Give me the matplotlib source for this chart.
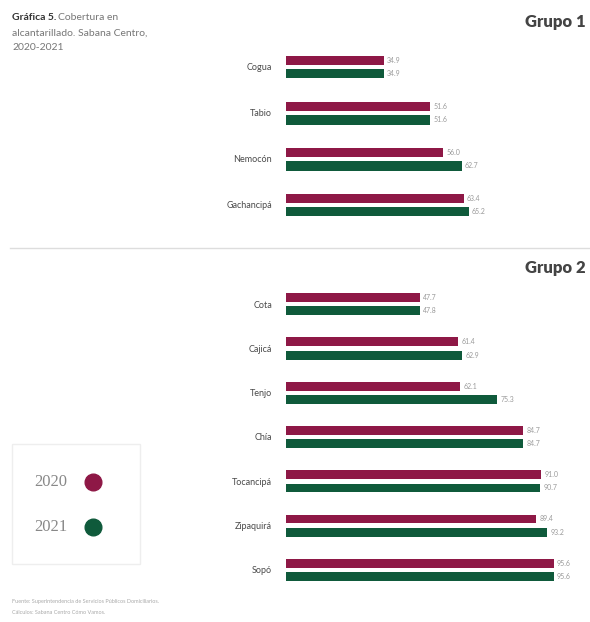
import matplotlib.pyplot as plt
from matplotlib.patches import Rectangle
from matplotlib.lines import Line2D

# ========= DATA =========
grupo1 = ['Cogua', 'Tabio', 'Nemocón', 'Gachancipá']
grupo1_2020 = [34.9, 51.6, 56.0, 63.4]
grupo1_2021 = [34.9, 51.6, 62.7, 65.2]

grupo2 = ['Cota', 'Cajicá', 'Tenjo', 'Chía', 'Tocancipá', 'Zipaquirá', 'Sopó']
grupo2_2020 = [47.7, 61.4, 62.1, 84.7, 91.0, 89.4, 95.6]
grupo2_2021 = [47.8, 62.9, 75.3, 84.7, 90.7, 93.2, 95.6]

years = ['2020', '2021']

# ========= STYLE =========
c2020 = '#8e1846'
c2021 = '#0f5a3b'
label_color = '#4a4a4a'
value_color = '#9a9a9a'
W, H = 590, 622
plt.rcParams['font.family'] = ['Lato', 'DejaVu Sans']

fig = plt.figure(figsize=(W / 100, H / 100), dpi=100)


def px_axes(x0, y0, x1, y1):
    # axes from pixel box (top-left origin)
    return fig.add_axes([x0 / W, 1 - y1 / H, (x1 - x0) / W, (y1 - y0) / H])


def draw_group(ax, cats, v20, v21):
    n = len(cats)
    ys = list(range(n))
    off, h = 0.15, 0.2
    ax.barh([y - off for y in ys], v20, height=h, color=c2020)
    ax.barh([y + off for y in ys], v21, height=h, color=c2021)
    for y, a, b in zip(ys, v20, v21):
        ax.text(a + 1.2, y - off, f'{a:.1f}', va='center', ha='left', fontsize=5, color=value_color)
        ax.text(b + 1.2, y + off, f'{b:.1f}', va='center', ha='left', fontsize=5, color=value_color)
    ax.set_ylim(n - 0.5, -0.5)
    ax.set_xlim(0, 100)
    ax.set_yticks(ys)
    ax.set_yticklabels(cats, fontsize=6.5, color=label_color)
    ax.tick_params(axis='y', length=0, pad=10)
    ax.set_xticks([])
    for s in ax.spines.values():
        s.set_visible(False)
    ax.patch.set_alpha(0)


ax1 = px_axes(286, 44, 566, 228)
draw_group(ax1, grupo1, grupo1_2020, grupo1_2021)

ax2 = px_axes(286, 282, 566, 592)
draw_group(ax2, grupo2, grupo2_2020, grupo2_2021)

# ========= TITLES & DECOR =========
fig.text(12 / W, 1 - 18 / H, 'Gráfica 5.', fontsize=7.5, fontweight='bold', color='#333333', va='center')
fig.text(58 / W, 1 - 18 / H, 'Cobertura en', fontsize=7.5, color='#777777', va='center')
fig.text(12 / W, 1 - 33 / H, 'alcantarillado. Sabana Centro,', fontsize=7.5, color='#777777', va='center')
fig.text(12 / W, 1 - 48 / H, '2020-2021', fontsize=7.5, color='#777777', va='center')

fig.text(586 / W, 1 - 22 / H, 'Grupo 1', fontsize=12, fontweight='heavy', color='#444444', ha='right', va='center')
fig.text(586 / W, 1 - 268 / H, 'Grupo 2', fontsize=12, fontweight='heavy', color='#444444', ha='right', va='center')

fig.add_artist(Line2D([10 / W, 590 / W], [1 - 248 / H, 1 - 248 / H], color='#dddddd', lw=1))

# legend box
fig.add_artist(Rectangle((12 / W, 1 - 564 / H), 128 / W, 120 / H, fill=False,
                         edgecolor='#eeeeee', lw=1))
for yy, yr, col in [(482, years[0], c2020), (527, years[1], c2021)]:
    fig.text(34 / W, 1 - yy / H, yr, fontsize=12, color='#888888', va='center',
             family='Liberation Serif')
    fig.add_artist(Line2D([93 / W], [1 - yy / H], marker='o', markersize=12,
                          color=col, linestyle='none'))

fig.text(12 / W, 1 - 602 / H, 'Fuente: Superintendencia de Servicios Públicos Domiciliarios.',
         fontsize=4, color='#aaaaaa', va='center')
fig.text(12 / W, 1 - 612 / H, 'Cálculos: Sabana Centro Cómo Vamos.',
         fontsize=4, color='#aaaaaa', va='center')

fig.savefig('out.png', dpi=100)
